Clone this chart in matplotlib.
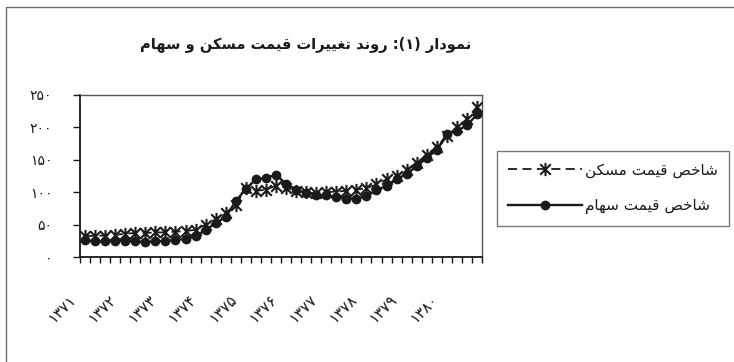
"""نمودار (۱): روند تغییرات قیمت مسکن و سهام — بازسازی با matplotlib."""
import matplotlib
matplotlib.use("Agg")
import matplotlib.pyplot as plt
from matplotlib.path import Path
from matplotlib.patches import Rectangle
from matplotlib.transforms import blended_transform_factory, offset_copy
import numpy as np

# ---- data (quarterly, 1371-1380) ----
YEARS = list(range(1371, 1381))
HOUSING = [32, 33, 33, 34, 36, 37, 37, 38, 38, 39,
           40, 42, 50, 58, 68, 80, 107, 102, 104, 110,
           107, 102, 100, 98, 100, 101, 102, 104, 106, 112,
           120, 125, 135, 145, 158, 170, 187, 200, 213, 232]
STOCK = [26, 24, 24, 25, 25, 24, 23, 24, 25, 26,
         28, 32, 42, 52, 62, 86, 105, 120, 122, 127,
         113, 103, 99, 96, 95, 92, 90, 90, 94, 103,
         110, 120, 128, 140, 153, 165, 190, 195, 203, 220]
Y_TICKS = [0, 50, 100, 150, 200, 250]

TITLE = "نمودار (۱): روند تغییرات قیمت مسکن و سهام"
LABEL_HOUSING = "شاخص قیمت مسکن"
LABEL_STOCK = "شاخص قیمت سهام"

C_INK = "#1a1a1a"
C_FRAME = "#6e6e6e"

# ---- minimal arabic shaping (no reshaper available) ----
# isolated, final, initial, medial
FORMS = {
    "ا": ("\uFE8D", "\uFE8E", None, None),
    "د": ("\uFEA9", "\uFEAA", None, None),
    "ر": ("\uFEAD", "\uFEAE", None, None),
    "و": ("\uFEED", "\uFEEE", None, None),
    "ت": ("\uFE95", "\uFE96", "\uFE97", "\uFE98"),
    "خ": ("\uFEA5", "\uFEA6", "\uFEA7", "\uFEA8"),
    "س": ("\uFEB1", "\uFEB2", "\uFEB3", "\uFEB4"),
    "ش": ("\uFEB5", "\uFEB6", "\uFEB7", "\uFEB8"),
    "ص": ("\uFEB9", "\uFEBA", "\uFEBB", "\uFEBC"),
    "غ": ("\uFECD", "\uFECE", "\uFECF", "\uFED0"),
    "ق": ("\uFED5", "\uFED6", "\uFED7", "\uFED8"),
    "ک": ("\uFED9", "\uFEDA", "\uFEDB", "\uFEDC"),
    "م": ("\uFEE1", "\uFEE2", "\uFEE3", "\uFEE4"),
    "ن": ("\uFEE5", "\uFEE6", "\uFEE7", "\uFEE8"),
    "ه": ("\uFEE9", "\uFEEA", "\uFEEB", "\uFEEC"),
    "ی": ("\uFEEF", "\uFEF0", "\uFEF3", "\uFEF4"),
}
FA_DIGITS = str.maketrans("0123456789", "۰۱۲۳۴۵۶۷۸۹")
MIRROR = {"(": ")", ")": "("}


def fa_num(n):
    return str(n).translate(FA_DIGITS)


def rtl(text):
    out = []
    for k, c in enumerate(text):
        if c not in FORMS:
            out.append(MIRROR.get(c, c))
            continue
        prev = text[k - 1] if k > 0 else ""
        nxt = text[k + 1] if k + 1 < len(text) else ""
        dual = FORMS[c][2] is not None
        join_prev = prev in FORMS and FORMS[prev][2] is not None
        join_next = dual and nxt in FORMS
        iso, fin, ini, med = FORMS[c]
        if join_prev and join_next:
            out.append(med)
        elif join_prev:
            out.append(fin)
        elif join_next:
            out.append(ini)
        else:
            out.append(iso)
    out = out[::-1]
    # digits keep left-to-right order
    res, run = [], []
    for c in out:
        if c in "۰۱۲۳۴۵۶۷۸۹0123456789":
            run.append(c)
        else:
            res.extend(run[::-1])
            run = []
            res.append(c)
    res.extend(run[::-1])
    return "".join(res)


# excel-like star marker: X with a vertical bar
STAR = Path([(-1, -1), (1, 1), (-1, 1), (1, -1), (0, -1.25), (0, 1.25)],
            [Path.MOVETO, Path.LINETO] * 3)

plt.rcParams.update({
    "font.family": ["DejaVu Sans"],
    "text.color": C_INK,
    "xtick.color": C_INK,
    "ytick.color": C_INK,
})

W, H = 734, 362
fig = plt.figure(figsize=(W / 100, H / 100), dpi=100)
fig.patch.set_facecolor("white")

# scanned chart border (left + top visible)
fig.patches.append(Rectangle((6 / W, -0.1), 1.2, 1 - 7 / H + 0.1,
                             transform=fig.transFigure, fill=False,
                             edgecolor=C_FRAME, lw=1.0))

ax = fig.add_axes([80 / W, 1 - 257 / H, 402 / W, 162 / H])
x = np.arange(len(HOUSING))

ax.plot(x, HOUSING, color=C_INK, lw=1.3, dashes=(5, 3),
        marker=STAR, ms=9.5, mew=1.5, label=rtl(LABEL_HOUSING), zorder=3)
ax.plot(x, STOCK, color=C_INK, lw=1.7,
        marker="o", ms=6, label=rtl(LABEL_STOCK), zorder=3)

ax.set_xlim(-0.5, len(HOUSING) - 0.5)
ax.set_ylim(Y_TICKS[0], Y_TICKS[-1])
ax.set_yticks(Y_TICKS)
ax.set_yticklabels([fa_num(v) for v in Y_TICKS], fontsize=10)
ax.tick_params(axis="y", direction="out", length=5, width=1, pad=15)

ax.set_xticks([])
ax.set_xticks(np.arange(-0.5, len(HOUSING)), minor=True)
ax.tick_params(axis="x", which="minor", direction="out", length=4, width=1)

for side in ("left", "bottom"):
    ax.spines[side].set_color(C_INK)
    ax.spines[side].set_linewidth(1.3)
for side in ("top", "right"):
    ax.spines[side].set_color("#555555")
    ax.spines[side].set_linewidth(1.0)

# rotated year labels, one per four quarters
trans = offset_copy(blended_transform_factory(ax.transData, ax.transAxes),
                    fig=fig, x=-12, y=-25, units="points")
for j, yr in enumerate(YEARS):
    ax.text(j * 4, 0, fa_num(yr), transform=trans, rotation=45,
            rotation_mode="anchor", ha="right", va="top", fontsize=11)

fig.text(306 / W, 1 - 45 / H, rtl(TITLE), ha="center", va="center",
         fontsize=10.5, fontweight="bold")

leg = ax.legend(loc="center left", bbox_to_anchor=(497 / W, 1 - 188.5 / H),
                bbox_transform=fig.transFigure, frameon=True, fancybox=False,
                edgecolor="#555555", fontsize=11, handlelength=4.8,
                handletextpad=0.2, labelspacing=1.35, borderpad=0.75,
                borderaxespad=0)
leg.get_frame().set_linewidth(1.0)

fig.savefig("out.png", dpi=100, facecolor="white")
